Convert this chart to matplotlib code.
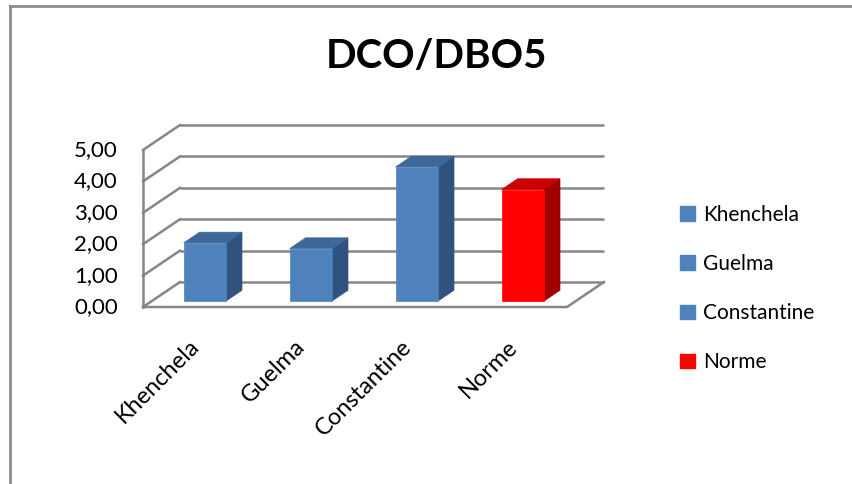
import matplotlib
matplotlib.use("Agg")
import matplotlib.pyplot as plt
from matplotlib.patches import Polygon, Patch
from matplotlib.lines import Line2D

# ---- data ----
categories = ["Khenchela", "Guelma", "Constantine", "Norme"]
values = [1.85, 1.67, 4.27, 3.55]
front_colors = ["#4F81BD", "#4F81BD", "#4F81BD", "#FF0000"]
top_colors = ["#3D6898", "#3D6898", "#3D6898", "#C80000"]
side_colors = ["#30527E", "#30527E", "#30527E", "#A00000"]
y_ticks = [0, 1, 2, 3, 4, 5]
y_tick_labels = ["0,00", "1,00", "2,00", "3,00", "4,00", "5,00"]
title = "DCO/DBO5"

FONT = "Lato"
GRID = "#868686"

W, H = 853, 484
fig = plt.figure(figsize=(W / 100, H / 100), dpi=100)
fig.patch.set_facecolor("white")

# front plane of the 3-D box: categories 0..4 horizontally, values 0..5 vertically
ax = fig.add_axes([143 / W, (H - 307) / H, 424 / W, 157 / H])
ax.set_xlim(0, len(categories))
ax.set_ylim(y_ticks[0], y_ticks[-1])
ax.axis("off")

# oblique depth offset (full depth of the box) in data units
DX, DY = 0.349, 0.796
n = len(categories)
lw = 1.8

# back wall gridlines and left wall diagonals
for v in y_ticks:
    ax.plot([DX, n + DX], [v + DY, v + DY], color=GRID, lw=lw, clip_on=False, zorder=1,
            solid_capstyle="butt")
    ax.plot([0, DX], [v, v + DY], color=GRID, lw=lw, clip_on=False, zorder=1)
# front-left edge of the wall
ax.plot([0, 0], [y_ticks[0], y_ticks[-1]], color=GRID, lw=lw, clip_on=False, zorder=1)
# floor front and right edges
ax.plot([0, n, n + DX], [0, 0, DY], color=GRID, lw=lw, clip_on=False, zorder=1)

# 3-D columns
bw = 0.4
d0, d1 = 0.24, 0.67
for i, (v, fc, tc, sc) in enumerate(zip(values, front_colors, top_colors, side_colors)):
    c = i + 0.5
    xl, xr = c - bw / 2, c + bw / 2
    ox0, oy0 = d0 * DX, d0 * DY
    ox1, oy1 = d1 * DX, d1 * DY
    side = [(xr + ox0, oy0), (xr + ox1, oy1), (xr + ox1, v + oy1), (xr + ox0, v + oy0)]
    top = [(xl + ox0, v + oy0), (xr + ox0, v + oy0), (xr + ox1, v + oy1), (xl + ox1, v + oy1)]
    front = [(xl + ox0, oy0), (xr + ox0, oy0), (xr + ox0, v + oy0), (xl + ox0, v + oy0)]
    for pts, col in ((side, sc), (top, tc), (front, fc)):
        ax.add_patch(Polygon(pts, closed=True, facecolor=col, edgecolor=col, lw=0.5,
                             clip_on=False, zorder=3))

# value axis labels
for v, lab in zip(y_ticks, y_tick_labels):
    ax.text(-0.236, v, lab, ha="right", va="center", fontsize=16, family=FONT,
            color="black", clip_on=False)

# category labels
for i, lab in enumerate(categories):
    ax.text(i + 0.50, -1.15, lab, rotation=45, rotation_mode="anchor", ha="right",
            va="center", fontsize=17, family=FONT, color="black", clip_on=False)

# title
fig.text(437 / W, 1 - 56 / H, title, ha="center", va="center", fontsize=29,
         fontweight="bold", family=FONT, color="black")

# legend
handles = [Patch(facecolor=c, edgecolor=c) for c in front_colors]
leg = fig.legend(handles, categories, loc="center left",
                 bbox_to_anchor=(670 / W, 1 - 288.5 / H), frameon=False,
                 prop={"family": FONT, "size": 15}, handlelength=0.7,
                 handleheight=0.7, handletextpad=0.4, labelspacing=1.4,
                 borderpad=0)

# chart border (left and top edges)
fig.add_artist(Line2D([10.5 / W, 10.5 / W], [0, 1 - 6 / H], color="#8C8C8C", lw=2,
                      transform=fig.transFigure))
fig.add_artist(Line2D([10.5 / W, 1], [1 - 6 / H, 1 - 6 / H], color="#8C8C8C", lw=2,
                      transform=fig.transFigure))

fig.savefig("out.png", dpi=100, facecolor="white")
